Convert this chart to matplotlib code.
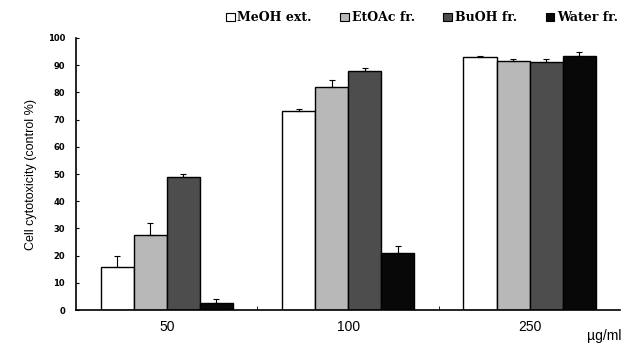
import matplotlib.pyplot as plt
import numpy as np
from matplotlib.patches import Patch

doses = ["50", "100", "250"]
series = ["MeOH ext.", "EtOAc fr.", "BuOH fr.", "Water fr."]
meoh = [16, 73, 93]
etoac = [27.5, 82, 91.5]
buoh = [49, 88, 91]
water = [2.5, 21, 93.5]
meoh_err = [4, 0.8, 0.5]
etoac_err = [4.5, 2.5, 0.6]
buoh_err = [1.2, 0.8, 1.2]
water_err = [1.5, 2.5, 1.5]

values = [meoh, etoac, buoh, water]
errors = [meoh_err, etoac_err, buoh_err, water_err]
colors = ["white", "#b8b8b8", "#4d4d4d", "#080808"]

fig = plt.figure(figsize=(6.29, 3.45), dpi=100)
ax = fig.add_axes([0.121, 0.101, 0.865, 0.789])

x = np.arange(len(doses))
width = 0.182
for i, (vals, errs) in enumerate(zip(values, errors)):
    pos = x + (i - 1.5) * width
    ax.bar(pos, vals, width, color=colors[i], edgecolor="black", linewidth=1.0)
    ax.errorbar(pos, vals, yerr=[np.zeros(len(errs)), errs], fmt="none",
                ecolor="black", elinewidth=0.8, capsize=2.5, capthick=0.8)

ax.set_xlim(-0.5, 2.5)
ax.set_ylim(0, 100)
ax.set_yticks(range(0, 101, 10))
ax.set_yticklabels([str(v) for v in range(0, 101, 10)], fontsize=6, fontweight="bold")
ax.set_xticks(x)
ax.set_xticklabels(doses, fontsize=10, family="Liberation Sans")
ax.set_xticks([0.5, 1.5], minor=True)
ax.tick_params(axis="x", which="major", length=0, pad=7)
ax.tick_params(axis="x", which="minor", direction="in", length=3)
ax.tick_params(axis="y", direction="in", length=2, pad=8)
for side in ["top", "right"]:
    ax.spines[side].set_visible(False)
ax.spines["left"].set_linewidth(1.2)
ax.spines["bottom"].set_linewidth(1.2)

ax.set_ylabel("Cell cytotoxicity (control %)", fontsize=9, family="Liberation Sans", labelpad=8)
ax.text(2.41, -0.07, "\u00b5g/ml", transform=ax.get_xaxis_transform(), fontsize=10,
        family="Liberation Sans", ha="center", va="top")

handles = [Patch(facecolor=c, edgecolor="black", linewidth=0.8) for c in colors]
fig.legend(handles, series, loc="upper right", bbox_to_anchor=(1.0, 1.0), ncol=4,
           frameon=False, handlelength=0.7, handleheight=0.7, handletextpad=0.2,
           columnspacing=2.3, prop={"family": "DejaVu Serif", "weight": "bold", "size": 9})

fig.savefig("out.png", dpi=100)
